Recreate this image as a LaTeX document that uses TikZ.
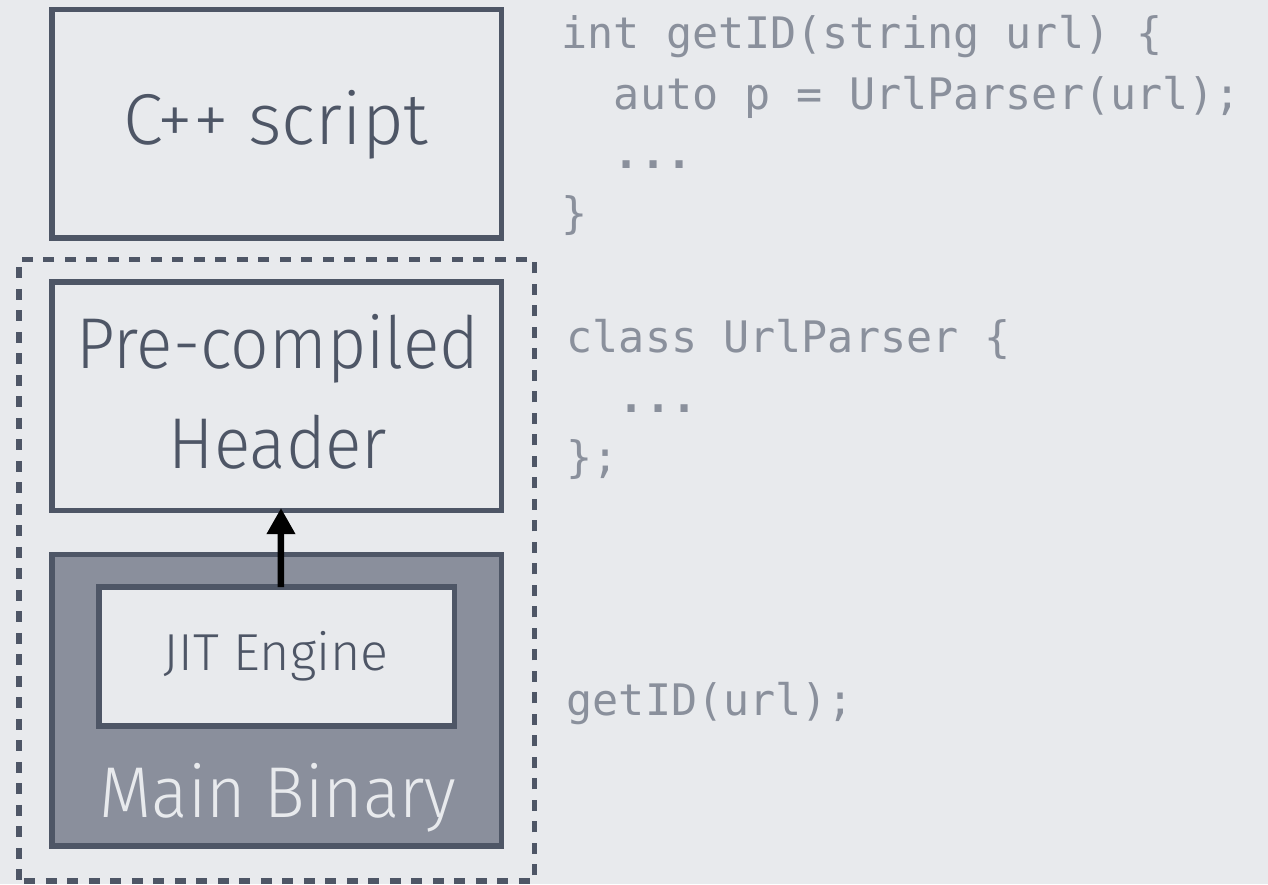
\documentclass[tikz,border=0pt]{standalone}
\usepackage{fontspec}
\newfontfamily\boxfont{Fira Sans Light}
\newfontfamily\narrowfont{Fira Sans Light}[FakeStretch=0.94]
\newfontfamily\codefont{DejaVu Sans Mono}
\usetikzlibrary{arrows.meta}
\definecolor{bgc}{HTML}{E8EAED}
\definecolor{edgec}{HTML}{4E5666}
\definecolor{binc}{HTML}{8A8F9C}
\definecolor{codec}{HTML}{8A909C}
\definecolor{lightc}{HTML}{E8EAED}

\begin{document}
\begin{tikzpicture}[x=1pt,y=-1pt,
  frame/.style={draw=edgec, line width=5.5pt, inner sep=0pt, outer sep=0pt, minimum width=449.8pt},
  lbl/.style={font=\boxfont\fontsize{72}{86}\selectfont, text=edgec, inner sep=0pt, anchor=base},
  narrowlbl/.style={lbl, font=\narrowfont\fontsize{72}{86}\selectfont},
  code/.style={font=\codefont\fontsize{43.4}{60}\selectfont, text=codec, inner sep=0pt, anchor=base west},
  dots/.style={code, font=\codefont\bfseries\fontsize{43.4}{60}\selectfont},
  link/.style={line width=6.5pt, black, -{Triangle[width=27pt,length=26pt]}},
]
\fill[bgc] (0,0) rectangle (1268,884);
\useasboundingbox (0,0) rectangle (1268,884);

% group holding the precompiled header and the binary
\node[draw=edgec, line width=5.3pt, dash pattern=on 11pt off 10.5pt, dash phase=16pt,
      inner sep=0pt, outer sep=0pt,
      minimum width=515.9pt, minimum height=621.4pt] (grp) at (276.85,570.3) {};

% script box
\node[frame, minimum height=228.7pt] (cpp) at (276.7,123.85) {};
\node[lbl] (cpptxt) at (276,144) {C++ script};

% precompiled header box
\node[frame, minimum height=228.5pt] (pch) at (276.7,396.25) {};
\node[narrowlbl] (pchtxt1) at (278,368) {Pre-compiled};
\node[narrowlbl] (pchtxt2) at (278,468) {Header};

% main binary with the JIT engine inside
\node[frame, fill=binc, minimum height=291.1pt] (bin) at (276.7,700.25) {};
\node[narrowlbl, text=lightc] (bintxt) at (278,817) {Main Binary};
\node[frame, fill=bgc, minimum width=355.7pt, minimum height=138.8pt] (jit) at (276.65,656.6) {};
\node[lbl, font=\boxfont\fontsize{52}{62}\selectfont] (jittxt) at (276,670.5) {JIT Engine};

\draw[link, shorten >=-2.5pt] ([xshift=4.3pt]jit.north) -- ([xshift=4.3pt]pch.south);

% source code
\node[code] (l1) at (561.5,48) {int getID(string url) \{};
\node[code] (l2) at (613.7,109) {auto p = UrlParser(url);};
\node[dots] (l3) at (613.7,168) {...};
\node[code] (l4) at (561.5,228) {\}};

\node[code] (k1) at (566.5,352) {class UrlParser \{};
\node[dots] (k2) at (618.7,412) {...};
\node[code] (k3) at (566.5,472) {\};};

\node[code] (call) at (566.5,715) {getID(url);};
\end{tikzpicture}
\end{document}
